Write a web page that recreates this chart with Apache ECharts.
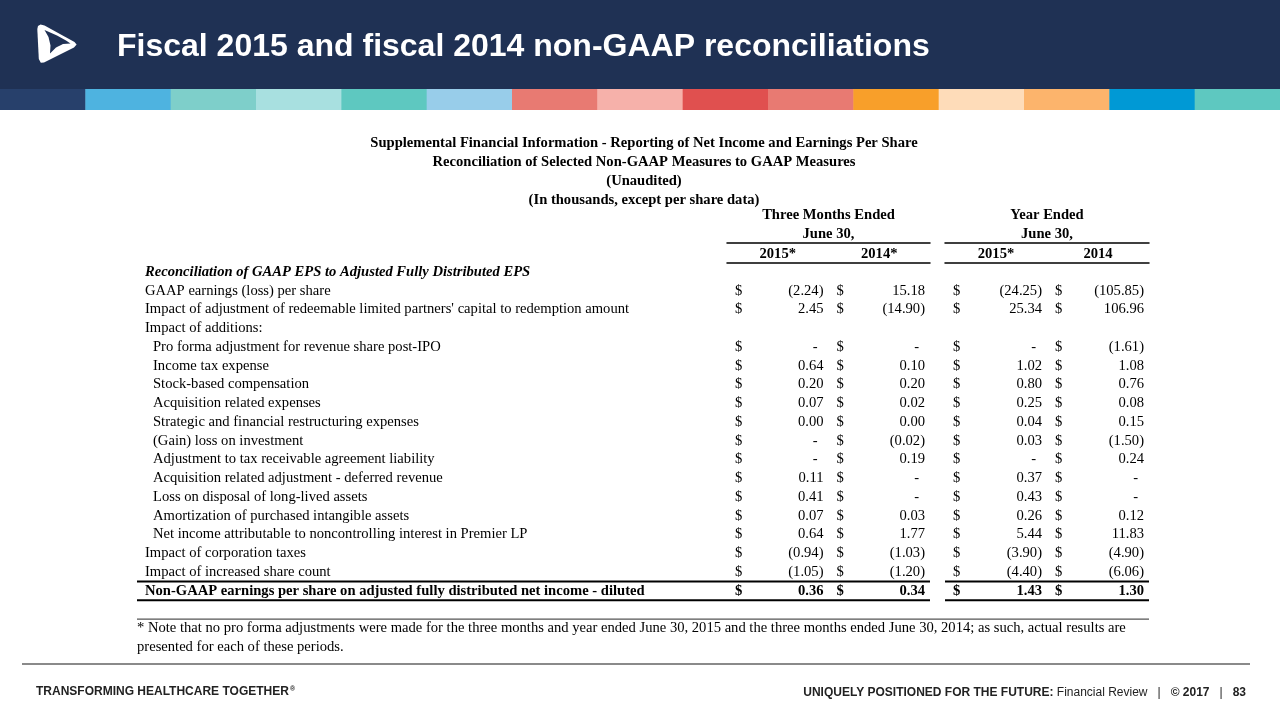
<!DOCTYPE html>
<html>
<head>
<meta charset="utf-8">
<script src="https://cdn.jsdelivr.net/npm/echarts@6/dist/echarts.min.js"></script>
<style>html,body{margin:0;padding:0;background:#fff}#c{width:1280px;height:720px}</style>
</head>
<body>
<div id="c"></div>
<script>
// ---------------- DATA ----------------
const slideTitle = 'Fiscal 2015 and fiscal 2014 non-GAAP reconciliations';
const tableTitleLines = [
  'Supplemental Financial Information - Reporting of Net Income and Earnings Per Share',
  'Reconciliation of Selected Non-GAAP Measures to GAAP Measures',
  '(Unaudited)',
  '(In thousands, except per share data)'
];
const groupHeaders = ['Three Months Ended\nJune 30,', 'Year Ended\nJune 30,'];
const columnsThreeMonths = ['2015*', '2014*'];
const columnsYear = ['2015*', '2014'];

const rowLabels = [
  'Reconciliation of GAAP EPS to Adjusted Fully Distributed EPS',
  'GAAP earnings (loss) per share',
  "Impact of adjustment of redeemable limited partners' capital to redemption amount",
  'Impact of additions:',
  'Pro forma adjustment for revenue share post-IPO',
  'Income tax expense',
  'Stock-based compensation',
  'Acquisition related expenses',
  'Strategic and financial restructuring expenses',
  '(Gain) loss on investment',
  'Adjustment to tax receivable agreement liability',
  'Acquisition related adjustment - deferred revenue',
  'Loss on disposal of long-lived assets',
  'Amortization of purchased intangible assets',
  'Net income attributable to noncontrolling interest in Premier LP',
  'Impact of corporation taxes',
  'Impact of increased share count',
  'Non-GAAP earnings per share on adjusted fully distributed net income - diluted',
  ' ',
  '* Note that no pro forma adjustments were made for the three months and year ended June 30, 2015 and the three months ended June 30, 2014; as such, actual results are',
  'presented for each of these periods.'
];

// rows that carry values (null = shown as "-")
const valueRows = [
  'GAAP earnings (loss) per share',
  "Impact of adjustment of redeemable limited partners' capital to redemption amount",
  'Pro forma adjustment for revenue share post-IPO',
  'Income tax expense',
  'Stock-based compensation',
  'Acquisition related expenses',
  'Strategic and financial restructuring expenses',
  '(Gain) loss on investment',
  'Adjustment to tax receivable agreement liability',
  'Acquisition related adjustment - deferred revenue',
  'Loss on disposal of long-lived assets',
  'Amortization of purchased intangible assets',
  'Net income attributable to noncontrolling interest in Premier LP',
  'Impact of corporation taxes',
  'Impact of increased share count',
  'Non-GAAP earnings per share on adjusted fully distributed net income - diluted'
];
const threeMonths2015 = [-2.24, 2.45, null, 0.64, 0.20, 0.07, 0.00, null, null, 0.11, 0.41, 0.07, 0.64, -0.94, -1.05, 0.36];
const threeMonths2014 = [15.18, -14.90, null, 0.10, 0.20, 0.02, 0.00, -0.02, 0.19, null, null, 0.03, 1.77, -1.03, -1.20, 0.34];
const year2015 = [-24.25, 25.34, null, 1.02, 0.80, 0.25, 0.04, 0.03, null, 0.37, 0.43, 0.26, 5.44, -3.90, -4.40, 1.43];
const year2014 = [-105.85, 106.96, -1.61, 1.08, 0.76, 0.08, 0.15, -1.50, 0.24, null, null, 0.12, 11.83, -4.90, -6.06, 1.30];

const footerLeft = 'TRANSFORMING HEALTHCARE TOGETHER';
const footerRightParts = ['UNIQUELY POSITIONED FOR THE FUTURE: ', 'Financial Review', '© 2017', '83'];

// ---------------- LAYOUT / STYLE ----------------
const SERIF = '"Liberation Serif", "Times New Roman", serif';
const SANS = '"Liberation Sans", Arial, sans-serif';
const FS = 14.6;
const NAVY = '#1f3154';
const stripColors = ['#27406b','#4eb3e0','#7ecfca','#a8e0e0','#5ec8c0','#98cdea','#e87a72','#f6b1aa','#e0504f','#e87a72','#f89f2a','#fedcb9','#fcb46c','#0099d5','#5ec8c0'];

const ROW_TOP = 262.6, ROW_H = 18.76;
const GRID_H = ROW_H * rowLabels.length;
const TABLE_LEFT = 137, A_LEFT = 727, A_RIGHT = 930, B_LEFT = 945, B_RIGHT = 1149;
const PAD_DOLLAR = 8, PAD_NUM = 5, DASH_PAD = 6;

const headingRow = 0, totalRow = 17, noteRows = [19, 20];
const indentRows = [4,5,6,7,8,9,10,11,12,13,14];
function rowKind(i) {
  if (i === headingRow) return 'head';
  if (i === totalRow) return 'total';
  if (noteRows.indexOf(i) >= 0) return 'note';
  if (indentRows.indexOf(i) >= 0) return 'ind';
  return 'norm';
}

function fmt(v) {
  if (v === null) return '-';
  const s = Math.abs(v).toFixed(2);
  return v < 0 ? '(' + s + ')' : s;
}

function buildCells(colNames, colArrays) {
  const data = [], texts = [];
  colArrays.forEach((arr, ci) => {
    arr.forEach((v, ri) => {
      data.push([colNames[ci], valueRows[ri]]);
      texts.push({ t: fmt(v), dash: v === null, bold: valueRows[ri] === rowLabels[totalRow] });
    });
  });
  return { data, texts };
}

function cellRenderer(texts) {
  return function (params, api) {
    const c = api.coord([api.value(0), api.value(1)]);
    const s = api.size([1, 1]);
    const left = c[0] - s[0] / 2, right = c[0] + s[0] / 2;
    const info = texts[params.dataIndex];
    const font = (info.bold ? 'bold ' : '') + FS + 'px ' + SERIF;
    return {
      type: 'group',
      children: [
        { type: 'text', style: { text: '$', x: left + PAD_DOLLAR, y: c[1], align: 'left', verticalAlign: 'middle', font: font, fill: '#000' } },
        { type: 'text', style: { text: info.t, x: right - PAD_NUM - (info.dash ? DASH_PAD : 0), y: c[1], align: 'right', verticalAlign: 'middle', font: font, fill: '#000' } }
      ]
    };
  };
}

// rule lines drawn at the top edge of these rows
const ruleRows = [rowLabels[totalRow], rowLabels[totalRow + 1]];
const noteRuleRow = rowLabels[noteRows[0]];
function lineRenderer(extendLeft) {
  return function (params, api) {
    const cs = params.coordSys;
    const c = api.coord([api.value(0), api.value(1)]);
    const s = api.size([1, 1]);
    const y = c[1] - s[1] / 2;
    const isNote = api.value(1) === noteRows[0];
    const x1 = cs.x - (isNote ? extendLeft : 0);
    return {
      type: 'line',
      shape: { x1: x1, y1: y, x2: cs.x + cs.width, y2: y },
      style: isNote ? { stroke: '#555', lineWidth: 1.2 } : { stroke: '#000', lineWidth: 2 }
    };
  };
}

const cellsA = buildCells(columnsThreeMonths, [threeMonths2015, threeMonths2014]);
const cellsB = buildCells(columnsYear, [year2015, year2014]);

const hiddenY = (gi) => ({ type: 'category', gridIndex: gi, inverse: true, data: rowLabels, show: false });
const topAxis = (gi, cats) => ({
  type: 'category', gridIndex: gi, position: 'top', data: cats,
  axisLine: { show: true, lineStyle: { color: '#000', width: 1.5 } },
  axisTick: { show: false }, splitLine: { show: false },
  axisLabel: { interval: 0, margin: 1, fontFamily: SERIF, fontSize: FS, fontWeight: 'bold', color: '#000' }
});
const groupAxis = (gi, cats, name) => ({
  type: 'category', gridIndex: gi, position: 'top', offset: 20, data: cats,
  axisLine: { show: true, lineStyle: { color: '#000', width: 1.5 } },
  axisTick: { show: false }, axisLabel: { show: false }, splitLine: { show: false },
  name: name, nameLocation: 'middle', nameGap: -1,
  nameTextStyle: { fontFamily: SERIF, fontSize: FS, fontWeight: 'bold', color: '#000', lineHeight: 19 }
});

// logo (white emblem with navy swoosh)
const logo = [
  { type: 'polygon', shape: { points: [[40.5,24.5],[38,26],[37.3,29],[38.8,59],[40.8,62.8],[44,62.5],[74,47.5],[76.6,44.6],[74.5,42],[44.5,25.5]] }, style: { fill: '#fff' } },
  { type: 'polygon', shape: { points: [[44.5,30],[57,35.5],[66,40.5],[70.5,43.5],[63,44],[56,47.5],[50,53.5],[50.5,45.5],[48.5,37]] }, style: { fill: NAVY } }
];

const graphics = [
  { type: 'rect', shape: { x: 0, y: 0, width: 1280, height: 89 }, style: { fill: NAVY } },
  ...stripColors.map((col, i) => ({ type: 'rect', shape: { x: i * 1280 / 15, y: 89, width: 1280 / 15 + 0.5, height: 21 }, style: { fill: col } })),
  ...logo,
  { type: 'text', style: { text: slideTitle, x: 117, y: 47, verticalAlign: 'middle', font: 'bold 32px ' + SANS, fill: '#fff' } },
  { type: 'line', shape: { x1: 22, y1: 664, x2: 1250, y2: 664 }, style: { stroke: '#8a8a8a', lineWidth: 2 } },
  { type: 'text', style: { x: 36, y: 692, verticalAlign: 'middle',
      text: '{b|' + footerLeft + '}{s|®}',
      rich: { b: { font: 'bold 12px ' + SANS, fill: '#222' }, s: { font: 'bold 7px ' + SANS, fill: '#222', padding: [0, 0, 6, 1] } } } },
  { type: 'text', style: { x: 1246, y: 693, align: 'right', verticalAlign: 'middle',
      text: '{b|' + footerRightParts[0] + '}{n|' + footerRightParts[1] + '   |   }{b|' + footerRightParts[2] + '}{n|   |   }{b|' + footerRightParts[3] + '}',
      rich: { b: { font: 'bold 12px ' + SANS, fill: '#222' }, n: { font: '12px ' + SANS, fill: '#222' } } } }
];

const option = {
  animation: false,
  backgroundColor: '#fff',
  title: {
    text: tableTitleLines.join('\n'),
    left: (TABLE_LEFT + B_RIGHT) / 2 - 4, top: 129, textAlign: 'center',
    textStyle: { fontFamily: SERIF, fontSize: FS, fontWeight: 'bold', color: '#000', lineHeight: 19 }
  },
  grid: [
    { left: TABLE_LEFT, top: ROW_TOP, width: A_RIGHT - TABLE_LEFT, height: GRID_H, containLabel: false, outerBoundsMode: 'none' },
    { left: A_LEFT, top: ROW_TOP, width: A_RIGHT - A_LEFT, height: GRID_H, containLabel: false, outerBoundsMode: 'none' },
    { left: B_LEFT, top: ROW_TOP, width: B_RIGHT - B_LEFT, height: GRID_H, containLabel: false, outerBoundsMode: 'none' }
  ],
  xAxis: [
    { type: 'category', gridIndex: 0, data: ['label'], show: false },
    topAxis(1, columnsThreeMonths),
    groupAxis(1, columnsThreeMonths, groupHeaders[0]),
    topAxis(2, columnsYear),
    groupAxis(2, columnsYear, groupHeaders[1])
  ],
  yAxis: [
    {
      type: 'category', gridIndex: 0, inverse: true, data: rowLabels,
      axisLine: { show: false }, axisTick: { show: false }, splitLine: { show: false },
      axisLabel: {
        interval: 0, align: 'left', margin: 0, color: '#000', fontFamily: SERIF, fontSize: FS,
        formatter: (v, i) => '{' + rowKind(i) + '|' + v + '}',
        rich: {
          head: { fontFamily: SERIF, fontSize: FS, fontWeight: 'bold', fontStyle: 'italic', color: '#000', padding: [0, 0, 0, 8] },
          norm: { fontFamily: SERIF, fontSize: FS, color: '#000', padding: [0, 0, 0, 8] },
          ind: { fontFamily: SERIF, fontSize: FS, color: '#000', padding: [0, 0, 0, 16] },
          total: { fontFamily: SERIF, fontSize: FS, fontWeight: 'bold', color: '#000', padding: [0, 0, 0, 8] },
          note: { fontFamily: SERIF, fontSize: FS, color: '#000', padding: [0, 0, 0, 0] }
        }
      }
    },
    hiddenY(1),
    hiddenY(2)
  ],
  series: [
    { type: 'custom', xAxisIndex: 0, yAxisIndex: 0, silent: true,
      data: [...ruleRows, noteRuleRow].map(r => ['label', r]), renderItem: lineRenderer(0) },
    { type: 'custom', xAxisIndex: 1, yAxisIndex: 1, silent: true, data: cellsA.data, renderItem: cellRenderer(cellsA.texts) },
    { type: 'custom', xAxisIndex: 3, yAxisIndex: 2, silent: true, data: cellsB.data, renderItem: cellRenderer(cellsB.texts) },
    { type: 'custom', xAxisIndex: 3, yAxisIndex: 2, silent: true,
      data: [...ruleRows, noteRuleRow].map(r => [columnsYear[0], r]), renderItem: lineRenderer(B_LEFT - A_RIGHT) }
  ],
  graphic: graphics
};

const chart = echarts.init(document.getElementById('c'), null, { renderer: 'canvas' });
chart.setOption(option);
</script>
</body>
</html>
